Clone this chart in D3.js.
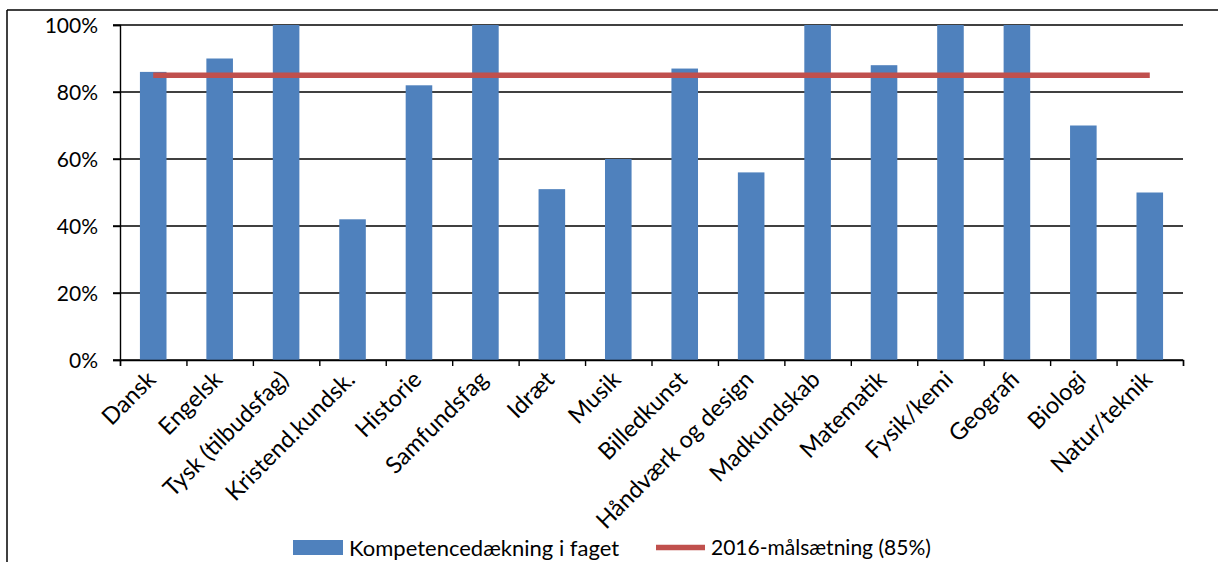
<!DOCTYPE html>
<html><head><meta charset="utf-8">
<script src="https://cdn.jsdelivr.net/npm/d3@7"></script>
<style>
html,body{margin:0;padding:0;background:#fff;}
svg{display:block;}
</style></head>
<body>
<svg id="c" width="1218" height="562"></svg>
<script>
const categories = ["Dansk","Engelsk","Tysk (tilbudsfag)","Kristend.kundsk.","Historie","Samfundsfag","Idræt","Musik","Billedkunst","Håndværk og design","Madkundskab","Matematik","Fysik/kemi","Geografi","Biologi","Natur/teknik"];
const coverage = [0.86,0.90,1.00,0.42,0.82,1.00,0.51,0.60,0.87,0.56,1.00,0.88,1.00,1.00,0.70,0.50];
const target = 0.85;
const yTicks = [0,0.2,0.4,0.6,0.8,1.0];
const seriesNames = ["Kompetencedækning i faget","2016-målsætning (85%)"];
const titleText = "Figur 3: Kompetencedækning i fagene på skolen, skoleåret 2014/15, i procent";

const svg = d3.select("#c");
const font = "Lato, 'Open Sans', sans-serif";
const L = 120, R = 1183, T = 25, B = 360;

const x = d3.scaleBand().domain(categories).range([L, R]).paddingInner(0.6).paddingOuter(0.3);
const xb = d3.scaleLinear().domain([0, categories.length]).range([L, R]);
const y = d3.scaleLinear().domain([0, 1]).range([B, T]);

// title (cut off at top edge, as in the reference)
svg.append("text").attr("x", 30).attr("y", -6)
  .attr("font-family", "'Liberation Serif', 'Times New Roman', serif")
  .attr("font-weight", "bold").attr("font-size", 21).attr("fill", "#000")
  .text(titleText);

// outer frame
svg.append("line").attr("x1", 7).attr("x2", 1218).attr("y1", 10).attr("y2", 10).attr("stroke", "#000").attr("stroke-width", 1.5);
svg.append("line").attr("x1", 7).attr("x2", 7).attr("y1", 10).attr("y2", 562).attr("stroke", "#000").attr("stroke-width", 1.5);

// gridlines
svg.append("g").selectAll("line").data(yTicks).join("line")
  .attr("x1", L - 7).attr("x2", R)
  .attr("y1", d => y(d)).attr("y2", d => y(d))
  .attr("stroke", "#000").attr("stroke-width", 1.4);

// y axis
const yAxis = svg.append("g").attr("transform", `translate(${L},0)`)
  .call(d3.axisLeft(y).tickValues(yTicks).tickSize(7).tickFormat(d3.format(".0%")));
yAxis.select(".domain").attr("stroke", "#000").attr("stroke-width", 1.4);
yAxis.selectAll(".tick line").attr("stroke", "#000").attr("stroke-width", 1.4);
yAxis.selectAll(".tick text").attr("font-family", font).attr("font-size", 21).attr("fill", "#000").attr("x", -22).attr("dy", "0.34em");

// bars
svg.append("g").selectAll("rect").data(categories).join("rect")
  .attr("x", d => x(d)).attr("width", x.bandwidth())
  .attr("y", (d, i) => y(coverage[i])).attr("height", (d, i) => B - y(coverage[i]))
  .attr("fill", "#4F81BD");

// x axis
const xAxis = svg.append("g").attr("transform", `translate(0,${B})`)
  .call(d3.axisBottom(xb).tickValues(d3.range(categories.length + 1)).tickSize(6).tickFormat(""));
xAxis.select(".domain").attr("stroke", "#000").attr("stroke-width", 1.4);
xAxis.selectAll(".tick line").attr("stroke", "#000").attr("stroke-width", 1.4);

svg.append("g").selectAll("text").data(categories).join("text")
  .attr("transform", d => `translate(${x(d) + x.bandwidth() / 2 - 8},${B + 9}) rotate(-45)`)
  .attr("text-anchor", "end").attr("dy", "0.72em")
  .attr("font-family", font).attr("font-size", 23.5).attr("fill", "#000")
  .text(d => d);

// target line
const line = d3.line().x(d => x(d) + x.bandwidth() / 2).y(() => y(target));
svg.append("path").datum(categories).attr("d", line)
  .attr("fill", "none").attr("stroke", "#C0504D").attr("stroke-width", 5.5);

// legend
const lg = svg.append("g");
lg.append("rect").attr("x", 293).attr("y", 540).attr("width", 50).attr("height", 15).attr("fill", "#4F81BD");
lg.append("text").attr("x", 349).attr("y", 548).attr("dy", "0.35em").attr("font-family", font).attr("font-size", 22).text(seriesNames[0]);
lg.append("line").attr("x1", 656).attr("x2", 705).attr("y1", 547.5).attr("y2", 547.5).attr("stroke", "#C0504D").attr("stroke-width", 5.5);
lg.append("text").attr("x", 711).attr("y", 548).attr("dy", "0.35em").attr("font-family", font).attr("font-size", 21).text(seriesNames[1]);
</script>
</body></html>
